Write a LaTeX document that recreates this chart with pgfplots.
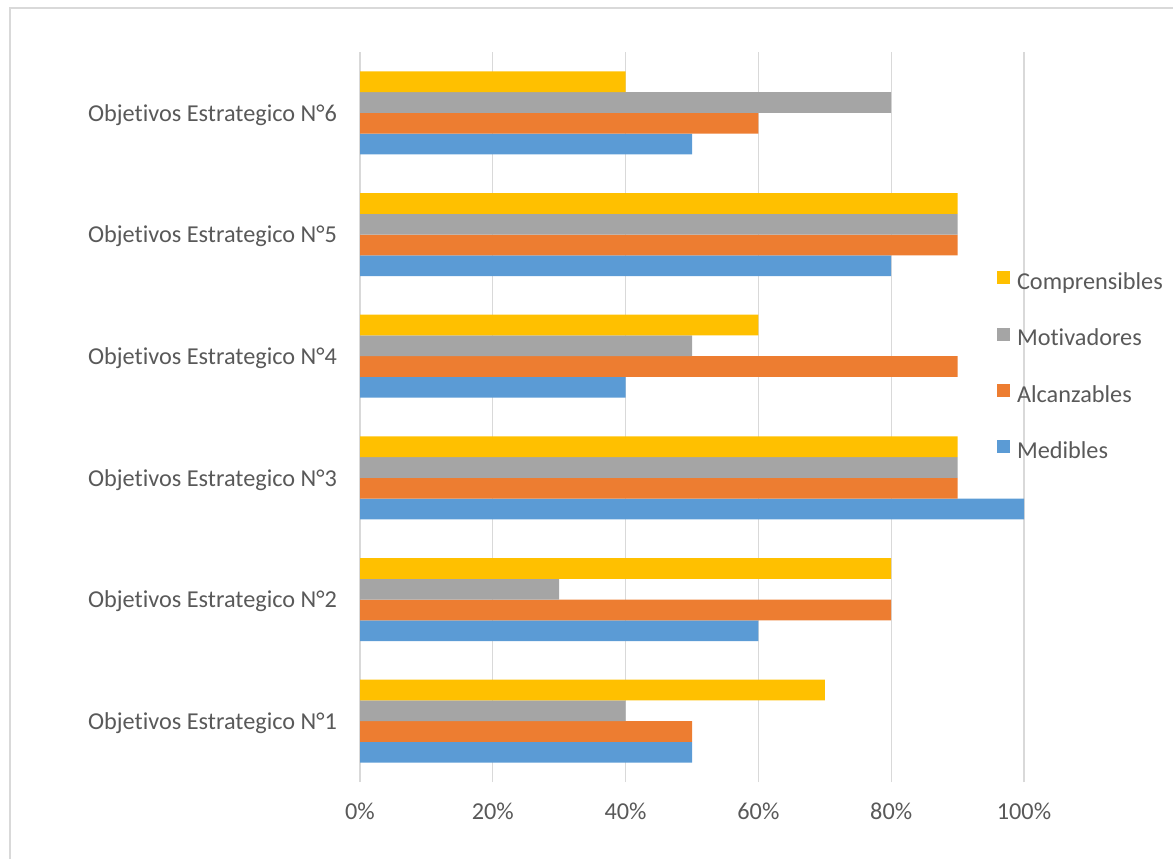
\documentclass[border=0pt]{standalone}
\usepackage{pgfplots}
\pgfplotsset{compat=1.18}
\usepackage{fontspec}
\setmainfont{Carlito}[Ligatures=CommonOff]

\definecolor{cMed}{HTML}{5B9BD5}
\definecolor{cAlc}{HTML}{ED7D31}
\definecolor{cMot}{HTML}{A5A5A5}
\definecolor{cCom}{HTML}{FFC000}
\definecolor{gridgray}{HTML}{D9D9D9}
\definecolor{framegray}{HTML}{D9D9D9}
\definecolor{labelgray}{HTML}{595959}

\begin{document}
\begin{tikzpicture}
\useasboundingbox (0,0) rectangle (879.75pt,-643.5pt);
% chart frame
\draw[framegray, line width=1.6pt] (7.8pt,-650pt) -- (7.8pt,-6pt) -- (885pt,-6pt);
\begin{axis}[
  at={(270pt,-586.5pt)}, anchor=south west,
  scale only axis, width=498pt, height=547.5pt,
  xmin=0, xmax=100, ymin=0.5, ymax=6.5,
  xtick={0,20,40,60,80,100},
  xticklabels={0\%,20\%,40\%,60\%,80\%,100\%},
  ytick={1,2,3,4,5,6},
  yticklabels={Objetivos Estrategico N°1,Objetivos Estrategico N°2,Objetivos Estrategico N°3,Objetivos Estrategico N°4,Objetivos Estrategico N°5,Objetivos Estrategico N°6},
  xmajorgrids, major grid style={color=gridgray, line width=0.8pt},
  axis line style={draw=none}, tick style={draw=none},
  tick label style={font=\fontsize{18.2}{22}\selectfont, text=labelgray},
  xticklabel style={yshift=-12.5pt},
  yticklabel style={xshift=-9.5pt, yshift=-1.5pt},
  xbar, bar width=0.1705,
  legend cell align=left,
  reverse legend,
  legend image code/.code={\fill[#1] (0pt,-0.5pt) rectangle (9.75pt,9.25pt);},
  legend style={draw=none, fill=none, at={(0.9585,0.5678)}, anchor=west,
    inner sep=0pt, font=\fontsize{18.2}{22}\selectfont, text=labelgray,
    row sep=24.4pt, column sep=5.5pt,
    nodes={inner sep=0pt, text height=13pt, text depth=4pt}},
]
% Medibles
\addplot[fill=cMed, draw=none, bar shift=-0.25575] coordinates {(50,1) (60,2) (100,3) (40,4) (80,5) (50,6)};
% Alcanzables
\addplot[fill=cAlc, draw=none, bar shift=-0.08525] coordinates {(50,1) (80,2) (90,3) (90,4) (90,5) (60,6)};
% Motivadores
\addplot[fill=cMot, draw=none, bar shift=0.08525] coordinates {(40,1) (30,2) (90,3) (50,4) (90,5) (80,6)};
% Comprensibles
\addplot[fill=cCom, draw=none, bar shift=0.25575] coordinates {(70,1) (80,2) (90,3) (60,4) (90,5) (40,6)};
\legend{Medibles,Alcanzables,Motivadores,Comprensibles}
\end{axis}
\end{tikzpicture}
\end{document}
